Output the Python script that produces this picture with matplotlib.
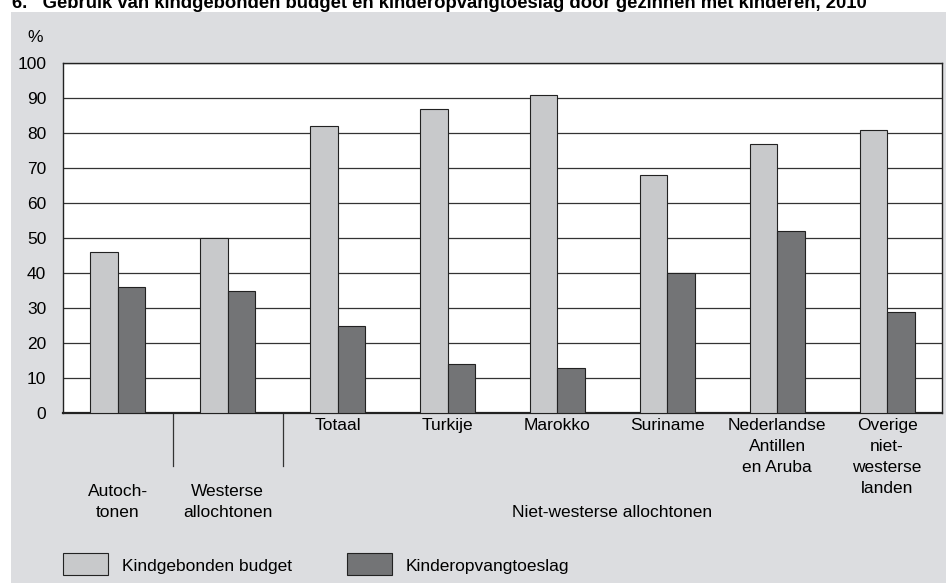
import matplotlib.pyplot as plt
import matplotlib.transforms as mtransforms
from matplotlib.patches import Rectangle
import numpy as np

plt.rcParams['font.family'] = ['Liberation Sans', 'DejaVu Sans']

# data
groups = ['Autoch-\ntonen', 'Westerse\nallochtonen', 'Totaal', 'Turkije', 'Marokko',
          'Suriname', 'Nederlandse\nAntillen\nen Aruba', 'Overige\nniet-\nwesterse\nlanden']
kindgebonden = [46, 50, 82, 87, 91, 68, 77, 81]
kinderopvang = [36, 35, 25, 14, 13, 40, 52, 29]
series_names = ['Kindgebonden budget', 'Kinderopvangtoeslag']
title = '6.   Gebruik van kindgebonden budget en kinderopvangtoeslag door gezinnen met kinderen, 2010'

light = '#c8c9cb'
dark = '#737476'
bg = '#dcdde0'
W, H = 946, 583

fig = plt.figure(figsize=(9.46, 5.83), dpi=100)
fig.patch.set_facecolor('white')
# grey panel behind everything
fig.patches.append(Rectangle((11 / W, 0), 1 - 11 / W, 1 - 12 / H, transform=fig.transFigure,
                             facecolor=bg, edgecolor='none', zorder=-5))
fig.text(12 / W, 1 - 8 / H, title, fontsize=13.3, fontweight='bold', ha='left', va='baseline')

ax = fig.add_axes([63 / W, 1 - 413 / H, 879 / W, 350 / H])
ax.set_zorder(2)
ax.set_facecolor('white')
x = np.arange(len(groups))
w = 0.25
ax.bar(x - w / 2, kindgebonden, w, color=light, edgecolor='#222222', linewidth=0.8, zorder=3)
ax.bar(x + w / 2, kinderopvang, w, color=dark, edgecolor='#222222', linewidth=0.8, zorder=3)

ax.set_xlim(-0.5, len(groups) - 0.5)
ax.set_ylim(0, 100)
ax.set_yticks(range(0, 101, 10))
ax.yaxis.grid(True, color='#333333', linewidth=0.9, zorder=1)
ax.set_axisbelow(True)
ax.tick_params(axis='y', length=0, pad=12, labelsize=12.5)
ax.set_xticks([])
for s in ax.spines.values():
    s.set_color('#222222')
    s.set_linewidth(1.0)
ax.spines['bottom'].set_linewidth(1.6)

fig.text(35 / W, 1 - 37 / H, '%', fontsize=12.5, ha='center', va='center')

trans = mtransforms.blended_transform_factory(ax.transData, ax.transAxes)
for i, lab in enumerate(groups):
    if i < 2:
        ax.text(x[i], (413 - 520) / 350, lab, transform=trans, ha='center', va='bottom',
                fontsize=12.5, linespacing=1.5)
    else:
        ax.text(x[i], -0.015, lab, transform=trans, ha='center', va='top',
                fontsize=12.5, linespacing=1.5)

for sep in [0.5, 1.5]:
    ax.plot([sep, sep], [0, -(466 - 413) / 350], transform=trans, color='#333333',
            linewidth=0.9, clip_on=False)

ax.text(4.5, (413 - 520) / 350, 'Niet-westerse allochtonen', transform=trans,
        ha='center', va='bottom', fontsize=12.5)

# legend
for (x0, col), name in zip([(63, light), (347, dark)], series_names):
    fig.patches.append(Rectangle((x0 / W, 1 - 575 / H), 45 / W, 22 / H, transform=fig.transFigure,
                                 facecolor=col, edgecolor='#222222', linewidth=0.8))
    fig.text((x0 + 59) / W, 1 - 566 / H, name, fontsize=12.5, ha='left', va='center')

fig.savefig('out.png', dpi=100, facecolor=fig.get_facecolor())
